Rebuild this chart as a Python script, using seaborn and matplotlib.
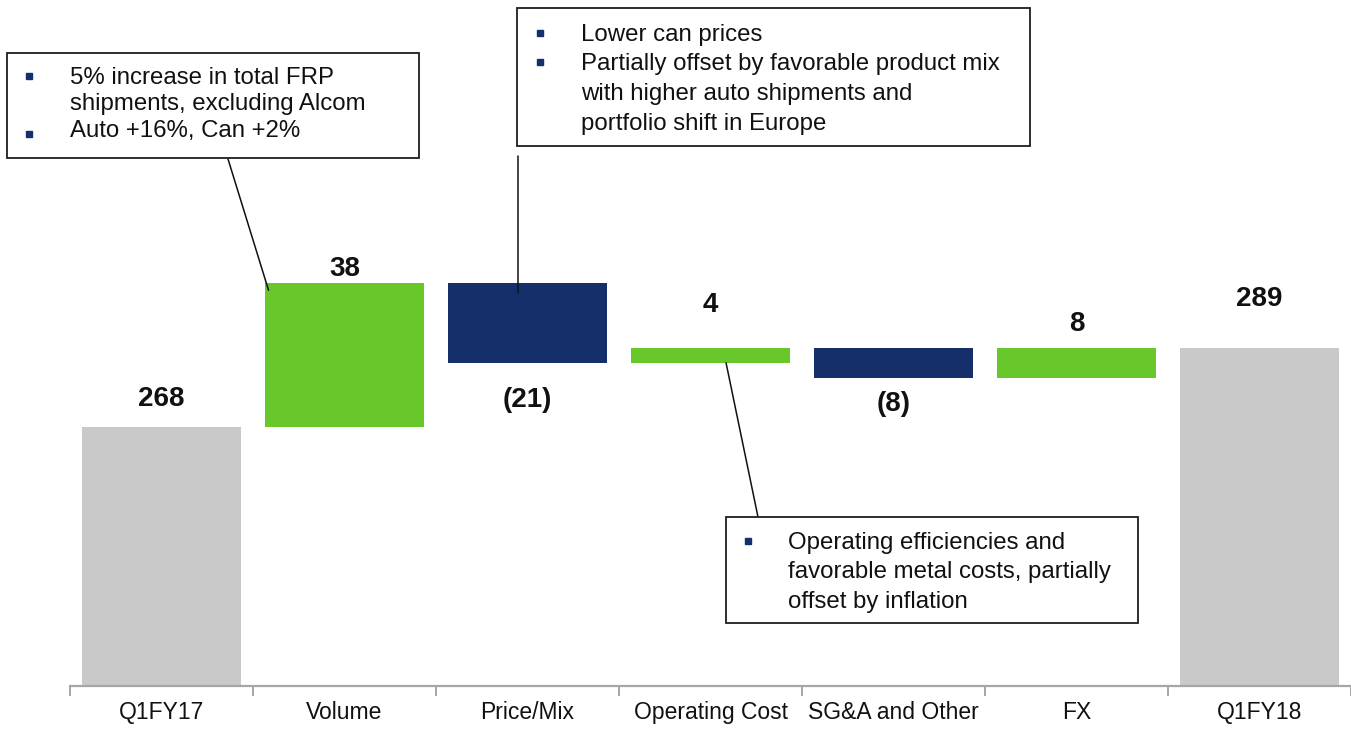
import numpy as np
import pandas as pd
import matplotlib
matplotlib.use("Agg")
import matplotlib.pyplot as plt
from matplotlib.patches import Rectangle, ConnectionPatch
from matplotlib.lines import Line2D
import seaborn as sns

# ---- data -------------------------------------------------------------
categories = ["Q1FY17", "Volume", "Price/Mix", "Operating Cost",
              "SG&A and Other", "FX", "Q1FY18"]
start_total = 268
deltas = [38, -21, 4, -8, 8]
end_total = 289

# ---- waterfall geometry from the data ---------------------------------
Y_FLOOR = 199.5
lows, highs = [Y_FLOOR], [start_total]
running = start_total
for d in deltas:
    new = running + d
    lows.append(min(running, new))
    highs.append(max(running, new))
    running = new
lows.append(Y_FLOOR)
highs.append(end_total)
spans = [h - l for h, l in zip(highs, lows)]
labels = [str(start_total)] + [f"{d}" if d >= 0 else f"({-d})" for d in deltas] + [str(end_total)]
kinds = ["total"] + ["up" if d >= 0 else "down" for d in deltas] + ["total"]

GREY, GREEN, NAVY = "#C9C9C9", "#67C72B", "#142F69"
kind_color = {"total": GREY, "up": GREEN, "down": NAVY}

df = pd.DataFrame({"category": categories, "span": spans, "low": lows})

# ---- figure ------------------------------------------------------------
sns.set_style("white")
plt.rcParams["font.family"] = ["Liberation Sans", "DejaVu Sans"]

W, H = 1351, 729
fig = plt.figure(figsize=(W / 100, H / 100), dpi=100)
ax = fig.add_axes([70 / W, 43 / H, 1281 / W, 686 / H])

BAR_W = 0.87
sns.barplot(data=df, x="category", y="span", order=categories,
            bottom=df["low"].to_numpy(), width=BAR_W, errorbar=None,
            color=GREY, saturation=1, linewidth=0, ax=ax)
for patch, k in zip(ax.patches, kinds):
    patch.set_facecolor(kind_color[k])
    patch.set_edgecolor("none")

ax.set_xlim(-0.5, len(categories) - 0.5)
ax.set_ylim(Y_FLOOR, 381)
ax.set_xlabel("")
ax.set_ylabel("")
ax.set_yticks([])
for s in ("left", "top", "right"):
    ax.spines[s].set_visible(False)
ax.spines["bottom"].set_color("#A6A6A6")
ax.spines["bottom"].set_linewidth(1.6)

ax.set_xticks(range(len(categories)))
ax.set_xticklabels(categories, fontsize=16.5, color="#111111")
ax.tick_params(axis="x", which="major", length=0, pad=10.5)
ax.set_xticks(np.arange(-0.5, len(categories), 1.0), minor=True)
ax.tick_params(axis="x", which="minor", bottom=True, length=7, width=1.4,
               color="#A6A6A6", direction="out")

# value labels: above rising/total bars, below falling bars (offsets in px)
label_offsets = [28, 14, -37, 43, -26, 24, 49]
for i, (lab, k, off) in enumerate(zip(labels, kinds, label_offsets)):
    y_anchor = lows[i] if k == "down" else highs[i]
    ax.annotate(lab, xy=(i, y_anchor), xytext=(0, off),
                textcoords="offset pixels", ha="center", va="center",
                fontsize=20, fontweight="bold", color="#111111")


# ---- commentary boxes --------------------------------------------------
def fx(x):
    return x / W


def fy(y):
    return 1 - y / H


def comment_box(rect, text_x, bullet_x, lines, bullets):
    x0, y0, x1, y1 = rect
    fig.add_artist(Rectangle((fx(x0), fy(y1)), (x1 - x0) / W, (y1 - y0) / H,
                             transform=fig.transFigure, facecolor="white",
                             edgecolor="#1E1E1E", linewidth=1.3, zorder=5))
    for txt, base in lines:
        fig.text(fx(text_x), fy(base), txt, fontsize=17.3, color="#111111",
                 ha="left", va="baseline", zorder=6)
    for by in bullets:
        fig.add_artist(Line2D([fx(bullet_x)], [fy(by)], marker="s",
                              markersize=4.0, color=NAVY, linestyle="none",
                              transform=fig.transFigure, zorder=6))


comment_box((7, 53, 419, 158), 70, 29,
            [("5% increase in total FRP", 84),
             ("shipments, excluding Alcom", 110),
             ("Auto +16%, Can +2%", 137)],
            [76, 134])

comment_box((517, 8, 1030, 146), 581, 540,
            [("Lower can prices", 41),
             ("Partially offset by favorable product mix", 70),
             ("with higher auto shipments and", 100),
             ("portfolio shift in Europe", 130)],
            [33, 62])

comment_box((726, 517, 1138, 623), 788, 748,
            [("Operating efficiencies and", 549),
             ("favorable metal costs, partially", 578),
             ("offset by inflation", 608)],
            [541])


def connector(px_pt, data_pt):
    cp = ConnectionPatch(xyA=(px_pt[0], H - px_pt[1]), coordsA="figure pixels",
                         xyB=data_pt, coordsB=ax.transData,
                         color="#111111", linewidth=1.1, zorder=4)
    cp.set_clip_on(False)
    fig.add_artist(cp)


connector((228, 159), (1 - BAR_W / 2 + 0.02, highs[1] - 1.8))
connector((518, 156), (2 - 0.052, highs[2] - 2.4))
connector((758, 517), (3 + 0.085, lows[3]))

fig.savefig("out.png", dpi=100)
